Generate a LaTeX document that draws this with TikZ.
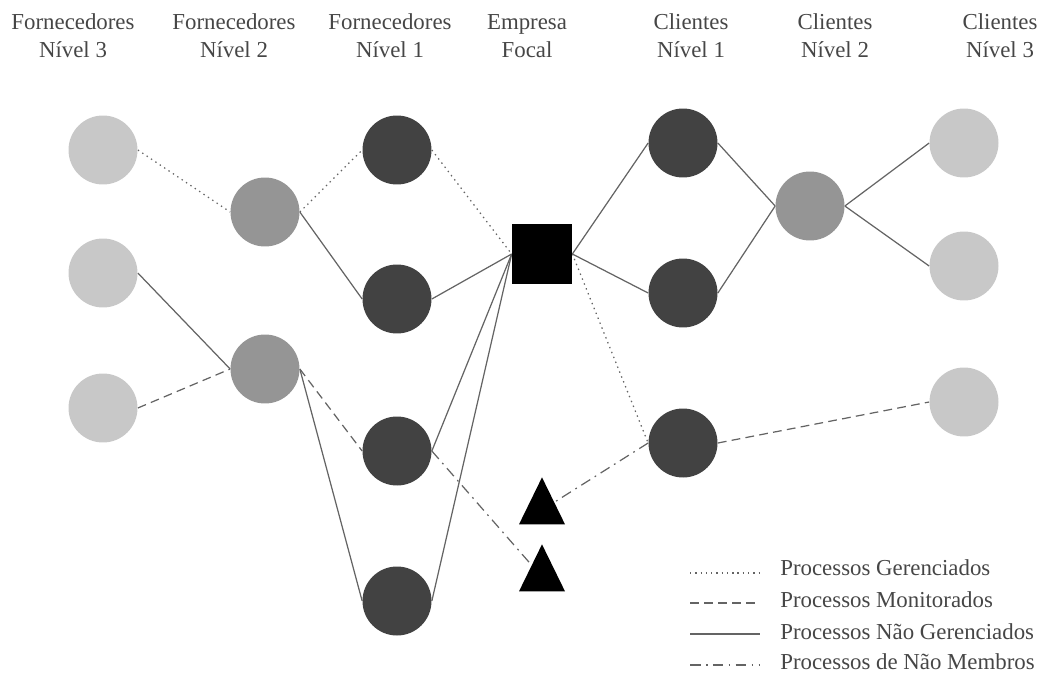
\documentclass[tikz,border=0pt]{standalone}
\usepackage{fontspec}
\setmainfont{Liberation Serif}
\usetikzlibrary{shapes.geometric, positioning, backgrounds}
\definecolor{TierLight}{RGB}{200,200,200}
\definecolor{TierMid}{RGB}{149,149,149}
\definecolor{TierDark}{RGB}{66,66,66}
\definecolor{LinkGray}{RGB}{100,100,100}
\definecolor{LabelGray}{RGB}{70,70,70}

\tikzset{
  tier/.style={circle, inner sep=0pt, minimum size=1.38cm},
  tierlight/.style={tier, fill=TierLight},
  tiermid/.style={tier, fill=TierMid},
  tierdark/.style={tier, fill=TierDark},
  focal/.style={rectangle, fill=black, inner sep=0pt, minimum size=1.2cm},
  outsider/.style={isosceles triangle, shape border rotate=90, isosceles triangle stretches,
    fill=black, inner sep=0pt, minimum width=0.92cm, minimum height=0.94cm},
  link/.style={draw=LinkGray, line width=0.7pt},
  managed/.style={link, dash pattern=on 0.8pt off 2.2pt},
  monitored/.style={link, dash pattern=on 5pt off 3pt},
  unmanaged/.style={link},
  nonmember/.style={link, dash pattern=on 6pt off 3pt on 1pt off 3pt},
  header/.style={align=center, text=LabelGray, font=\fontsize{13}{16}\selectfont},
  legendtext/.style={anchor=west, text=LabelGray, font=\fontsize{13}{16}\selectfont, inner sep=0pt}
}

\begin{document}
\begin{tikzpicture}[x=0.02cm, y=-0.02cm]
  \useasboundingbox (0,0) rectangle (1045,673);

  % column titles
  \node[header] (h1) at (73,36) {Fornecedores\\Nível 3};
  \node[header] (h2) at (234,36) {Fornecedores\\Nível 2};
  \node[header] (h3) at (390,36) {Fornecedores\\Nível 1};
  \node[header] (h4) at (527,36) {Empresa\\Focal};
  \node[header] (h5) at (691,36) {Clientes\\Nível 1};
  \node[header] (h6) at (835,36) {Clientes\\Nível 2};
  \node[header] (h7) at (1000,36) {Clientes\\Nível 3};

  % suppliers
  \node[tierlight] (s3a) at (103,150) {};
  \node[tierlight] (s3b) at (103,273) {};
  \node[tierlight] (s3c) at (103,408) {};
  \node[tiermid] (s2a) at (265,212) {};
  \node[tiermid] (s2b) at (265,369) {};
  \node[tierdark] (s1a) at (397,150) {};
  \node[tierdark] (s1b) at (397,299) {};
  \node[tierdark] (s1c) at (397,451) {};
  \node[tierdark] (s1d) at (397,601) {};

  % focal firm and non members
  \node[focal] (firm) at (542,254) {};
  \node[outsider] (nm1) at (542,510) {};
  \node[outsider] (nm2) at (542,577) {};

  % customers
  \node[tierdark] (c1a) at (683,143) {};
  \node[tierdark] (c1b) at (683,293) {};
  \node[tierdark] (c1c) at (683,443) {};
  \node[tiermid] (c2a) at (810,206) {};
  \node[tierlight] (c3a) at (964,143) {};
  \node[tierlight] (c3b) at (964,266) {};
  \node[tierlight] (c3c) at (964,402) {};

  \begin{scope}[on background layer]
    \draw[managed] (s3a.east) -- (s2a.west);
    \draw[unmanaged] (s3b.east) -- (s2b.west);
    \draw[monitored] (s3c.east) -- (s2b.west);
    \draw[managed] (s2a.east) -- (s1a.west);
    \draw[unmanaged] (s2a.east) -- (s1b.west);
    \draw[monitored] (s2b.east) -- (s1c.west);
    \draw[unmanaged] (s2b.east) -- (s1d.west);
    \draw[nonmember] (s1c.east) -- (nm2);
    \draw[managed] (s1a.east) -- (firm.west);
    \draw[unmanaged] (s1b.east) -- (firm.west);
    \draw[unmanaged] (s1c.east) -- (firm.west);
    \draw[unmanaged] (s1d.east) -- (firm.west);
    \draw[unmanaged] (firm.east) -- (c1a.west);
    \draw[unmanaged] (firm.east) -- (c1b.west);
    \draw[managed] (firm.east) -- (c1c.west);
    \draw[unmanaged] (c1a.east) -- (c2a.west);
    \draw[unmanaged] (c1b.east) -- (c2a.west);
    \draw[unmanaged] (c2a.east) -- (c3a.west);
    \draw[unmanaged] (c2a.east) -- (c3b.west);
    \draw[monitored] (c1c.east) -- (c3c.west);
    \draw[nonmember] (c1c.west) -- (nm1);
  \end{scope}

  % legend
  \coordinate (l1a) at (690,573); \coordinate (l1b) at (760,573);
  \coordinate (l2a) at (690,603); \coordinate (l2b) at (760,603);
  \coordinate (l3a) at (690,634); \coordinate (l3b) at (760,634);
  \coordinate (l4a) at (690,665); \coordinate (l4b) at (760,665);
  \draw[managed] (l1a) -- (l1b);
  \draw[monitored] (l2a) -- (l2b);
  \draw[unmanaged] (l3a) -- (l3b);
  \draw[nonmember] (l4a) -- (l4b);
  \node[legendtext] (t1) at (780,568) {Processos Gerenciados};
  \node[legendtext] (t2) at (780,600) {Processos Monitorados};
  \node[legendtext] (t3) at (780,632) {Processos Não Gerenciados};
  \node[legendtext] (t4) at (780,662) {Processos de Não Membros};
\end{tikzpicture}
\end{document}
